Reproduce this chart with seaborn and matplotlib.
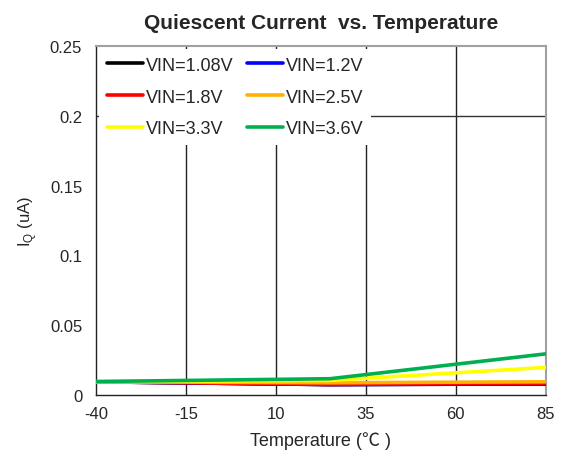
import matplotlib
matplotlib.use("Agg")
import matplotlib.pyplot as plt
import seaborn as sns
import pandas as pd
from matplotlib.lines import Line2D

sns.set_style("white")
plt.rcParams["font.family"] = ["Liberation Sans", "Noto Sans CJK SC", "DejaVu Sans"]

# Quiescent current (uA) versus temperature for each supply voltage
temps = [-40, 25, 85]
series_names = ["VIN=1.08V", "VIN=1.2V", "VIN=1.8V", "VIN=2.5V", "VIN=3.3V", "VIN=3.6V"]
iq_108 = [0.0095, 0.0075, 0.0080]
iq_12 = [0.0095, 0.0075, 0.0080]
iq_18 = [0.0095, 0.0076, 0.0085]
iq_25 = [0.0095, 0.0088, 0.0095]
iq_33 = [0.0096, 0.0105, 0.0198]
iq_36 = [0.0097, 0.0117, 0.0295]
colors = ["#000000", "#0000FF", "#FF0000", "#FFB000", "#FFFF00", "#00B050"]

x_ticks = [-40, -15, 10, 35, 60, 85]
y_ticks = [0, 0.05, 0.1, 0.15, 0.2, 0.25]
y_tick_labels = ["0", "0.05", "0.1", "0.15", "0.2", "0.25"]

rows = []
for name, vals in zip(series_names, [iq_108, iq_12, iq_18, iq_25, iq_33, iq_36]):
    for t, v in zip(temps, vals):
        rows.append({"Temperature": t, "IQ": v, "VIN": name})
df = pd.DataFrame(rows)

fig = plt.figure(figsize=(5.65, 4.6), dpi=100)
ax = fig.add_axes([0.170, 0.139, 0.796, 0.759])

sns.lineplot(data=df, x="Temperature", y="IQ", hue="VIN", hue_order=series_names,
             palette=colors, linewidth=2.6, ax=ax, legend=False, zorder=3)

ax.set_xlim(-40, 85)
ax.set_ylim(0, 0.25)
ax.set_xticks(x_ticks)
ax.set_xticklabels([str(t) for t in x_ticks])
ax.set_yticks(y_ticks)
ax.set_yticklabels(y_tick_labels)

# vertical grid at every interior temperature tick, one horizontal rule at 0.2
for t in x_ticks[1:-1]:
    ax.axvline(t, color="#222222", lw=1.0, zorder=1)
ax.axhline(0.2, color="#333333", lw=1.0, zorder=1)

for side in ["left", "bottom"]:
    ax.spines[side].set_color("#222222")
    ax.spines[side].set_linewidth(1.0)
for side in ["top", "right"]:
    ax.spines[side].set_color("#A0A0A0")
    ax.spines[side].set_linewidth(1.5)

ax.tick_params(axis="y", direction="in", length=5, color="#888888", labelsize=12, pad=10)
ax.tick_params(axis="x", length=0, labelsize=12, pad=8)

ax.set_xlabel("Temperature (\u2103 )", fontsize=13, labelpad=7)
ax.set_ylabel(r"I$_\mathregular{Q}$ (uA)", fontsize=12, labelpad=8)
ax.set_title("Quiescent Current  vs. Temperature", fontsize=15, fontweight="bold", pad=13)

# legend: two columns, filled row by row
order = [0, 2, 4, 1, 3, 5]
handles = [Line2D([0], [0], color=colors[i], lw=2.6) for i in order]
labels = [series_names[i] for i in order]
leg = ax.legend(handles, labels, ncol=2, loc="upper left", bbox_to_anchor=(0.0, 1.0),
                fontsize=13, frameon=True, fancybox=False, framealpha=1.0,
                edgecolor="none", facecolor="white", handlelength=2.0,
                handletextpad=0.15, columnspacing=0.75, labelspacing=0.82,
                borderaxespad=0.15, borderpad=0.45)
leg.set_zorder(5)

fig.savefig("out.png", dpi=100)
